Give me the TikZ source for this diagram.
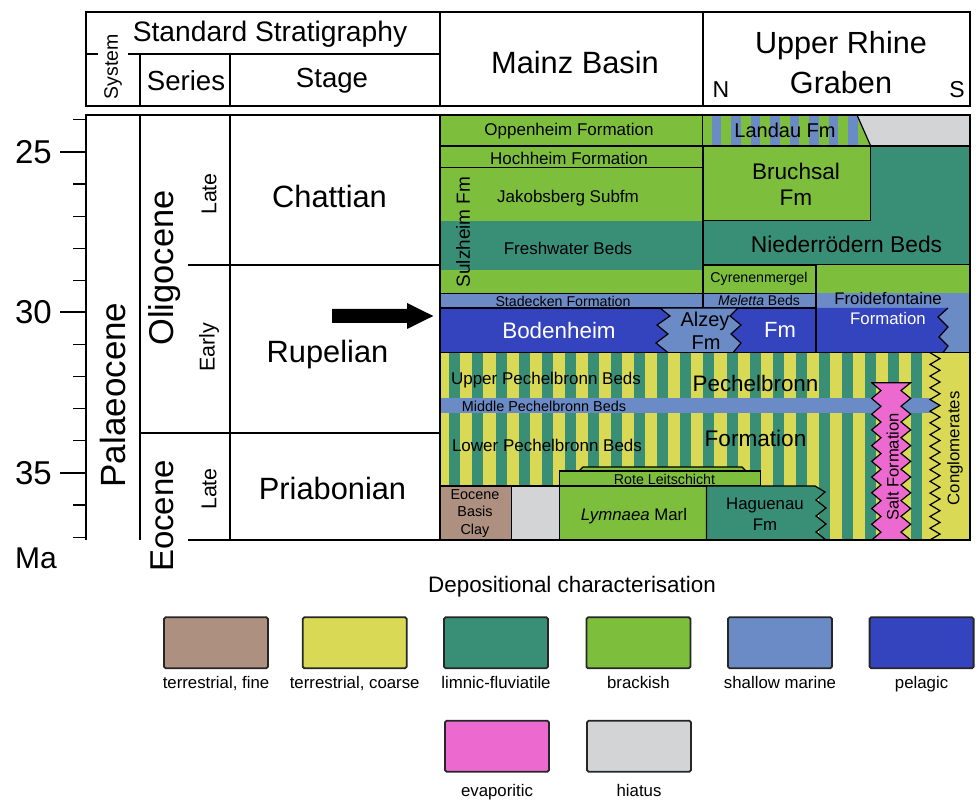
\documentclass[tikz,border=0pt]{standalone}
\usepackage{fontspec}
\setmainfont{Liberation Sans}

\definecolor{tfine}{RGB}{173,144,128}
\definecolor{tcoarse}{RGB}{217,217,85}
\definecolor{limnic}{RGB}{57,143,117}
\definecolor{brackish}{RGB}{125,191,61}
\definecolor{shallow}{RGB}{107,139,198}
\definecolor{pelagic}{RGB}{52,68,191}
\definecolor{evap}{RGB}{236,106,207}
\definecolor{hiatus}{RGB}{211,212,214}

\newcommand{\fsz}[1]{\fontsize{#1}{\dimexpr #1pt*6/5\relax}\selectfont}

\tikzset{
  bord/.style={line width=1pt},
  lay/.style={line width=0.6pt},
  key/.style={draw=black!85,line width=0.9pt,rounded corners=0.8pt},
}

\begin{document}
\begin{tikzpicture}[x=0.5pt,y=-0.5pt,inner sep=0pt]
\useasboundingbox (0,0) rectangle (976,801);

% Mainz Basin
\fill[brackish] (440,115) rectangle (703,293.3);
\fill[limnic] (440,220.7) rectangle (703,270);
\fill[shallow] (440,293.3) rectangle (703,308);
\draw[lay] (440,115) rectangle (703,146);
\draw[lay] (440,146) rectangle (703,167.7);
\draw[lay] (440,167.7) rectangle (703,293.3);
\draw[lay] (440,293.3) rectangle (703,308);

% Upper Rhine Graben
\fill[brackish] (703,115) -- (857,115) -- (870.7,146) -- (703,146) -- cycle;
\begin{scope}
\clip (703,115) -- (857,115) -- (870.7,146) -- (703,146) -- cycle;
\foreach \i in {0,...,7} \fill[shallow] ({711.7+19.5*\i},115) rectangle ++(9.5,31);
\end{scope}
\fill[hiatus] (857,115) -- (970,115) -- (970,146) -- (870.7,146) -- cycle;
\draw[lay] (857,115) -- (870.7,146);
\fill[brackish] (703,146) rectangle (870.7,220.7);
\filldraw[limnic,draw=black,lay] (870.7,146) -- (970,146) -- (970,265) -- (703,265) -- (703,220.7) -- (870.7,220.7) -- cycle;
\draw[lay] (703,146) rectangle (870.7,220.7);
\fill[brackish] (703,265) rectangle (970,293.3);
\fill[shallow] (703,293.3) rectangle (970,308);
\fill[shallow] (816,308) rectangle (970,352.7);
\fill[pelagic] (440,308) rectangle (816,352.7);
\fill[pelagic] (816,308) -- (948,308) -- (938,317) -- (948,327) -- (939,337) -- (948,346) -- (943,352.7) -- (816,352.7) -- cycle;
\draw[lay] (948,308) -- (938,317) -- (948,327) -- (939,337) -- (948,346) -- (943,352.7);
\draw[lay] (703,265) rectangle (816,293.3);
\draw[lay] (703,293.3) rectangle (816,308);
\draw[lay] (440,308) -- (816,308);
\draw[lay] (816,265) -- (816,352.7);
\filldraw[shallow,draw=black,lay] (660,308) -- (738,308) -- (730,316) -- (741,325) -- (731,334) -- (741,343) -- (733,352.7) -- (668,352.7) -- (656,343) -- (668,334) -- (657,325) -- (670,316) -- cycle;

% Pechelbronn
\fill[tcoarse] (440,352.7) rectangle (970,540);
\foreach \i in {0,...,20} \fill[limnic] ({449.3+23.1*\i},352.7) rectangle ++(11,187.3);
\fill[shallow] (440,397.7) rectangle (940,412.7);
\fill[tcoarse] (970,352.7) -- (930,352.7) \foreach \j in {0,...,15} {-- (940,{358.6+11.7*\j}) -- (930,{364.4+11.7*\j})} -- (970,540) -- cycle;
\draw[lay] (930,352.7) \foreach \j in {0,...,15} {-- (940,{358.6+11.7*\j}) -- (930,{364.4+11.7*\j})};
\filldraw[evap,draw=black,lay] (871.7,382.7) -- (910.7,382.7) \foreach \j in {1,...,10} {-- (901,{374.8+15.73*\j}) -- (910.7,{382.7+15.73*\j})} -- (871.7,540) \foreach \j in {1,...,10} {-- (881,{547.9-15.73*\j}) -- (871.7,{540-15.73*\j})} -- cycle;
\draw[lay] (440,352.7) -- (970,352.7);

\filldraw[brackish,draw=black,lay] (579,471) -- (583,467) -- (742,467) -- (746,471) -- cycle;
\filldraw[brackish,draw=black,lay] (559.5,471) rectangle (760.8,486);
\filldraw[tfine,draw=black,lay] (440,486) rectangle (511.2,540);
\filldraw[hiatus,draw=black,lay] (511.2,486) rectangle (559.5,540);
\filldraw[brackish,draw=black,lay] (559.5,486) rectangle (706.5,540);
\filldraw[limnic,draw=black,lay] (706.5,486) -- (815,486) -- (825,492) -- (816,500) -- (826,508) -- (816,516) -- (826,524) -- (816,532) -- (826,540) -- (706.5,540) -- cycle;

% frames
\draw[lay] (86,54) -- (440,54);
\node[rotate=90,fill=white,inner xsep=0pt,inner ysep=3pt] (system) at (113,67) {\fsz{9.75}System};
\draw[bord] (86,12) rectangle (970,106);
\draw[bord] (440,12) -- (440,106);
\draw[bord] (703,12) -- (703,106);
\draw[lay] (140,54) -- (140,106);
\draw[lay] (230,54) -- (230,106);

\draw[bord] (86,540) -- (86,115) -- (970,115) -- (970,540) -- (188,540);
\draw[bord] (440,115) -- (440,540);
\draw[lay] (140,115) -- (140,540);
\draw[lay] (230,115) -- (230,540);
\draw[lay] (188,265) -- (440,265);
\draw[lay] (140,433) -- (440,433);

% time axis
\foreach \m in {24,...,37} \draw[lay] (73,{152+32.1*(\m-25)}) -- (86,{152+32.1*(\m-25)});
\foreach \m in {25,30,35} {
  \draw[bord] (60,{152+32.1*(\m-25)}) -- (86,{152+32.1*(\m-25)});
  \node (ma\m) at (33.5,{152+32.1*(\m-25)}) {\fsz{16.5}\m};
}
\node (ma) at (36,558.5) {\fsz{15}Ma};

\fill (332,309) -- (407,309) -- (407,303) -- (433.3,316) -- (407,329) -- (407,323) -- (332,323) -- cycle;

% header texts
\node (stdstrat) at (270,34) {\fsz{14.1}Standard Stratigraphy};
\node (series) at (186,81) {\fsz{13.8}Series};
\node (stage) at (332,81) {\fsz{13.8}Stage};
\node (mainz) at (575,62) {\fsz{15.4}Mainz Basin};
\node (urg1) at (841,46) {\fsz{15.3}Upper Rhine};
\node (urg2) at (841,82.5) {\fsz{15.3}Graben};
\node (north) at (721,90) {\fsz{11.5}N};
\node (south) at (957,90) {\fsz{11.5}S};

% standard stratigraphy
\node[rotate=90] (palaeo) at (113,395) {\fsz{17.5}Palaeocene};
\node[rotate=90] (oligo) at (165,268) {\fsz{17.2}Oligocene};
\node[rotate=90] (eoc) at (162,516) {\fsz{16.5}Eocene};
\node[rotate=90] (late1) at (209,194) {\fsz{10.7}Late};
\node[rotate=90] (early) at (209,347) {\fsz{10.7}Early};
\node[rotate=90] (late2) at (209,489) {\fsz{10.7}Late};
\node (chatt) at (329.5,196) {\fsz{15.4}Chattian};
\node (rupel) at (327.5,355) {\fsz{15.4}Rupelian};
\node (priab) at (332.5,488) {\fsz{15.4}Priabonian};

% formations
\node (oppen) at (569,131) {\fsz{8.5}Oppenheim Formation};
\node (hochh) at (569,158) {\fsz{8.5}Hochheim Formation};
\node (jakob) at (568,198) {\fsz{8.5}Jakobsberg Subfm};
\node (fresh) at (568,248) {\fsz{8.5}Freshwater Beds};
\node[rotate=90] (sulz) at (463,232) {\fsz{9.5}Sulzheim Fm};
\node (stad) at (563,301.5) {\fsz{7.1}Stadecken Formation};
\node[text=white] (boden) at (559,330) {\fsz{11.2}Bodenheim};
\node (alzey1) at (705,321) {\fsz{10}Alzey};
\node (alzey2) at (706,343) {\fsz{10}Fm};
\node[text=white] (bodenfm) at (780,330) {\fsz{11}Fm};
\node (landau) at (785,130) {\fsz{10}Landau Fm};
\node (bruch1) at (796,171) {\fsz{11.3}Bruchsal};
\node (bruch2) at (796,198) {\fsz{11.3}Fm};
\node (nieder) at (846.5,244) {\fsz{11.4}Niederrödern Beds};
\node (cyren) at (759,279) {\fsz{7.1}Cyrenenmergel};
\node (melet) at (759,301) {\fsz{7}\textit{Meletta} Beds};
\node (froid1) at (888,299) {\fsz{8.4}Froidefontaine};
\node[text=white] (froid2) at (888,319) {\fsz{8.4}Formation};
\node (uppech) at (546,380) {\fsz{8.5}Upper Pechelbronn Beds};
\node (pech1) at (755.5,383) {\fsz{11.2}Pechelbronn};
\node (midpech) at (544,406) {\fsz{7.2}Middle Pechelbronn Beds};
\node (lopech) at (547,445) {\fsz{8.5}Lower Pechelbronn Beds};
\node (pech2) at (755.5,438) {\fsz{11.3}Formation};
\node (rote) at (664.5,479.5) {\fsz{7.1}Rote Leitschicht};
\node[align=center,font=\fsz{7.2}] (basis) at (475,513.3) {Eocene\\Basis\\Clay};
\node (lymn) at (634,516) {\fsz{8.4}\textit{Lymnaea} Marl};
\node (hag1) at (765,505) {\fsz{8.4}Haguenau};
\node (hag2) at (765,525) {\fsz{8.4}Fm};
\node[rotate=90] (salt) at (892.7,467) {\fsz{8.3}Salt Formation};
\node[rotate=90] (congl) at (955,448.5) {\fsz{8.4}Conglomerates};

% legend
\node (legtitle) at (572,586.7) {\fsz{11.2}Depositional characterisation};
\foreach \x/\c/\t [count=\k] in {164/tfine/{terrestrial, fine},302.7/tcoarse/{terrestrial, coarse},444/limnic/limnic-fluviatile,586.4/brackish/brackish,728/shallow/shallow marine,869.6/pelagic/pelagic} {
  \filldraw[key,fill=\c] (\x,617.3) rectangle ++(104,51);
  \node[anchor=base] (key\k) at ({\x+52},689) {\fsz{8.4}\t};
}
\foreach \x/\c/\t [count=\k] in {445/evap/evaporitic,587/hiatus/hiatus} {
  \filldraw[key,fill=\c] (\x,720.7) rectangle ++(104,51);
  \node[anchor=base] (keyb\k) at ({\x+52},797) {\fsz{8.4}\t};
}
\end{tikzpicture}
\end{document}
